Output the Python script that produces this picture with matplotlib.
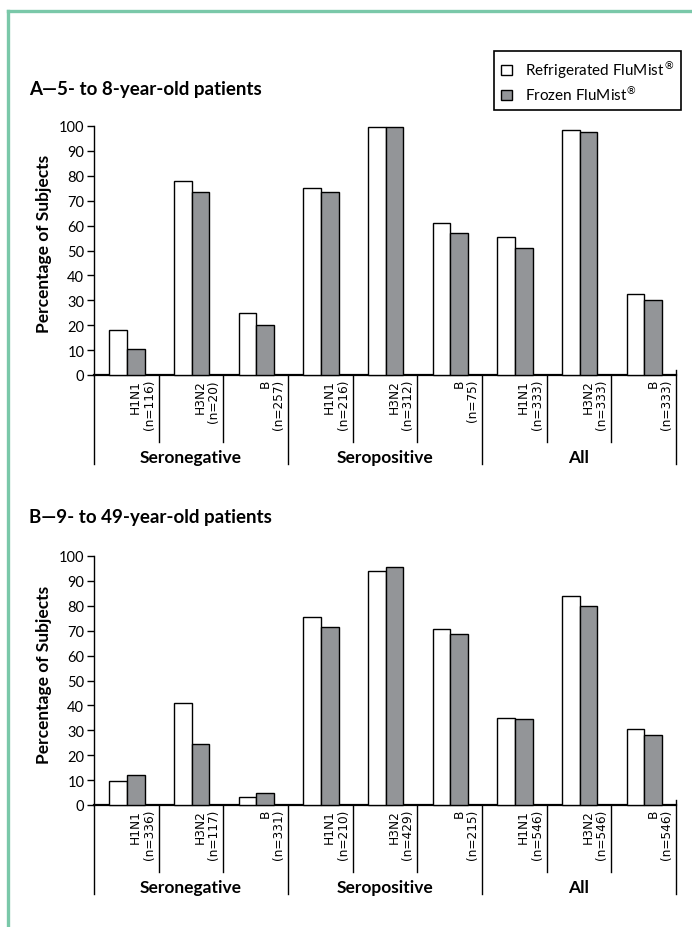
import matplotlib
matplotlib.use("Agg")
import matplotlib.pyplot as plt
from matplotlib.patches import Patch
from matplotlib.lines import Line2D

# ---------------- data ----------------
strains = ["H1N1", "H3N2", "B", "H1N1", "H3N2", "B", "H1N1", "H3N2", "B"]
groups = ["Seronegative", "Seropositive", "All"]

n_a = [116, 20, 257, 216, 312, 75, 333, 333, 333]
refrig_a = [18, 78, 25, 75, 99.5, 61, 55.5, 98.5, 32.5]
frozen_a = [10.5, 73.5, 20, 73.5, 99.5, 57, 51, 97.5, 30]

n_b = [336, 117, 331, 210, 429, 215, 546, 546, 546]
refrig_b = [9.5, 41, 3.3, 75.5, 94, 70.5, 35, 84, 30.5]
frozen_b = [12, 24.5, 4.8, 71.5, 95.5, 68.5, 34.5, 80, 28]

yticks = list(range(0, 101, 10))
title_a = "A\u20145- to 8-year-old patients"
title_b = "B\u20149- to 49-year-old patients"
series_names = ["Refrigerated FluMist$^{\u00ae}$", "Frozen FluMist$^{\u00ae}$"]

# ---------------- style ----------------
W, H = 692, 928
DPI = 100
WHITE = "#ffffff"
GRAY = "#939598"
GREEN = "#7ac8a9"
BOLD_FONT = ["Lato", "DejaVu Sans"]
TICK_FONT = ["DejaVu Sans"]

fig = plt.figure(figsize=(W / DPI, H / DPI), dpi=DPI)
fig.patch.set_facecolor("white")


def fx(px):
    return px / W


def fy(py):
    return 1 - py / H


# green frame
fig.add_artist(Line2D([fx(8), fx(8)], [0, fy(12)], color=GREEN, lw=2.4))
fig.add_artist(Line2D([fx(8), 1], [fy(12), fy(12)], color=GREEN, lw=2.4))

AX_LEFT, AX_RIGHT = 94, 676
PX_PER_UNIT = 249 / 100.0


def panel(zero_px, top_px, refrig, frozen, ns, title, title_y, ylabel_y):
    ax = fig.add_axes([fx(AX_LEFT), fy(zero_px), (AX_RIGHT - AX_LEFT) / W,
                       (zero_px - top_px) / H])
    ncat = len(strains)
    xs = list(range(ncat))
    bw = 0.275
    ax.bar([x + 0.3725 for x in xs], refrig, width=bw, color=WHITE,
           edgecolor="black", linewidth=1.0, clip_on=False, zorder=3)
    ax.bar([x + 0.6475 for x in xs], frozen, width=bw, color=GRAY,
           edgecolor="black", linewidth=1.0, clip_on=False, zorder=3)
    ax.set_xlim(0, ncat)
    ax.set_ylim(0, 100)
    ax.set_yticks(yticks)
    ax.set_yticklabels([str(t) for t in yticks], fontsize=10.5, family=BOLD_FONT)
    ax.tick_params(axis="y", direction="out", length=5, width=1, pad=2)
    ax.set_xticks([])
    for s in ["top", "right"]:
        ax.spines[s].set_visible(False)
    ax.spines["left"].set_linewidth(1.0)
    ax.spines["bottom"].set_linewidth(1.6)
    ax.patch.set_alpha(0)

    u = 1.0 / PX_PER_UNIT
    cat_end = -67 * u
    grp_end = -89 * u
    # category separators
    for i in range(1, ncat):
        if i % 3 == 0:
            ax.plot([i, i], [0, grp_end], color="black", lw=1.0, clip_on=False)
        else:
            ax.plot([i, i], [0, cat_end], color="black", lw=1.0, clip_on=False)
    ax.plot([0, 0], [0, grp_end], color="black", lw=1.0, clip_on=False)
    ax.plot([ncat, ncat], [5 * u, grp_end], color="black", lw=1.0, clip_on=False)

    # category labels
    for i, (s, n) in enumerate(zip(strains, ns)):
        ax.text(i + 1 - 3.0 / 64.7, -4 * u, f"{s}\n(n={n})", rotation=90,
                ha="right", va="top", multialignment="right", fontsize=8.7,
                family=TICK_FONT, linespacing=1.05, clip_on=False)
    # group labels
    for g, name in enumerate(groups):
        ax.text(g * 3 + 1.5, -82 * u, name, ha="center", va="center",
                fontsize=12.5, fontweight="bold", family=BOLD_FONT)

    fig.text(fx(29), fy(title_y), title, ha="left", va="center",
             fontsize=13.5, fontweight="bold", family=BOLD_FONT)
    fig.text(fx(44), fy(ylabel_y), "Percentage of Subjects", rotation=90,
             ha="center", va="center", fontsize=12.5, fontweight="bold",
             family=BOLD_FONT)
    return ax


ax_a = panel(376, 127, refrig_a, frozen_a, n_a, title_a, 90, 244)
ax_b = panel(806, 557, refrig_b, frozen_b, n_b, title_b, 517, 675)

handles = [Patch(facecolor=WHITE, edgecolor="black", linewidth=1.0),
           Patch(facecolor=GRAY, edgecolor="black", linewidth=1.0)]
leg = fig.legend(handles, series_names, loc="upper right",
                 bbox_to_anchor=(fx(681), fy(52)), borderaxespad=0,
                 fancybox=False, framealpha=1, edgecolor="black",
                 handlelength=0.7, handleheight=0.7, handletextpad=0.85,
                 labelspacing=0.24, borderpad=0.45,
                 prop={"family": BOLD_FONT, "size": 11})
leg.get_frame().set_linewidth(1.2)

fig.savefig("out.png", dpi=DPI)
